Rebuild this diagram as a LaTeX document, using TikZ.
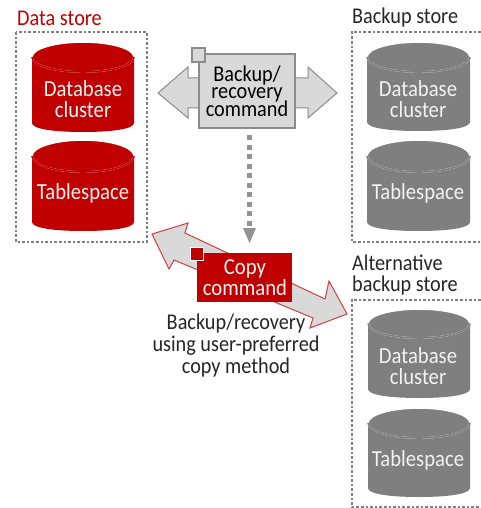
\documentclass[tikz,border=0pt]{standalone}
\usepackage{fontspec}
\setmainfont[FakeStretch=0.9]{Carlito}
\definecolor{fjred}{HTML}{C00000}
\definecolor{cylgray}{HTML}{7F7F7F}
\definecolor{arrowfill}{HTML}{D9D9D9}
\definecolor{arrowedge}{HTML}{8C8C8C}
\definecolor{dotgray}{HTML}{808080}
\definecolor{softwhite}{HTML}{F2F2F2}
\newcommand{\tightlines}{\lineskiplimit=-20pt\relax}
\newcommand{\dbcyl}[6]{%
  \fill[#6] (#1,{(#3+#4)/2}) -- (#1,#5-9) .. controls (#1,#5-3) and (#1+22,#5) .. ({(#1+#2)/2},#5)
    .. controls (#2-22,#5) and (#2,#5-3) .. (#2,#5-9) -- (#2,{(#3+#4)/2}) -- cycle;
  \draw[white,line width=1.6pt,fill=#6] ({(#1+#2)/2},{(#3+#4)/2}) ellipse [x radius={(#2-#1)/2},y radius={(#4-#3)/2}];
  \draw[#6,line width=1.6pt] (#1,{(#3+#4)/2}) arc[start angle=180,end angle=0,x radius={(#2-#1)/2},y radius={(#4-#3)/2}];
}
\tikzset{
  x=1pt,y=-1pt,
  storebox/.style={draw=dotgray,line width=2.8pt,dash pattern=on 2.6pt off 2pt},
  heading/.style={anchor=west,inner sep=0pt,font=\fontsize{22.5}{21}\selectfont},
  cyltext/.style={inner sep=0pt,align=center,font=\fontsize{23}{21}\selectfont},
  lighttext/.style={cyltext,text=softwhite},
  graydouble/.style={draw=arrowedge,fill=arrowfill,line width=1pt,line join=miter},
  reddouble/.style={draw=fjred!75!white,fill=arrowfill,line width=1pt,line join=miter},
  cmdbox/.style={draw=arrowedge,fill=arrowfill,line width=1.2pt,minimum width=96pt,minimum height=74pt,inner sep=0pt},
  copybox/.style={fill=fjred,minimum width=95pt,minimum height=49pt,inner sep=0pt},
  cmdtext/.style={inner sep=0pt,align=center,font=\fontsize{22.5}{17.5}\selectfont\tightlines},
}
\begin{document}
\begin{tikzpicture}
\useasboundingbox[fill=white] (0,0) rectangle (481,508);
% store frames
\draw[storebox] (481,32) -- (352,32) -- (352,242) -- (481,242);
\draw[storebox] (481,300) -- (352,300) -- (352,507) -- (481,507);
\draw[storebox] (16,32) rectangle (147,242);
\node[heading,text=fjred] (dsl) at (17,18) {Data store};
\node[heading,text=black!85] (bsl) at (352,18) {Backup store};
\node[heading,text=black!85,align=left] (asl) at (352,275) {Alternative\\backup store};
% cylinders
\dbcyl{32}{134}{42}{72}{132}{fjred}
\dbcyl{32}{134}{140}{172}{231}{fjred}
\dbcyl{367}{470}{42}{72}{131}{cylgray}
\dbcyl{367}{470}{140}{172}{231}{cylgray}
\dbcyl{368}{470}{309}{338}{398}{cylgray}
\dbcyl{368}{470}{408}{438}{497}{cylgray}
\node[lighttext] (t1) at (83,99) {Database\\cluster};
\node[lighttext] (t2) at (83,193) {Tablespace};
\node[lighttext] (t3) at (418,99) {Database\\cluster};
\node[lighttext] (t4) at (418,193) {Tablespace};
\node[lighttext] (t5) at (418,366) {Database\\cluster};
\node[lighttext] (t6) at (418,460) {Tablespace};
% gray double arrow
\draw[graydouble] (158,93) -- (188,67) -- (188,78) -- (308,78) -- (308,67) -- (337,93) -- (308,118) -- (308,108) -- (188,108) -- (188,118) -- cycle;
\node[cmdbox] (cmd) at (247,91) {};
\node[cmdtext] (cmdt) at (247,91) {Backup/\\recovery\\command};
\draw[draw=arrowedge,fill=arrowfill,line width=1.2pt] (192,48) rectangle (205,62);
% dotted arrow
\coordinate (ds) at (249.5,135);
\coordinate (de) at (249.5,228);
\draw[dotgray!85,line width=5pt,dash pattern=on 5pt off 4.5pt] (ds) -- (de);
\fill[dotgray!85] (243,228) -- (256,228) -- (249.5,243) -- cycle;
% red double arrow
\draw[reddouble] (152,234) -- (188,223) -- (185,233) -- (325,299) -- (329,281) -- (347,314) -- (310,328) -- (313,318) -- (174,260) -- (169,269) -- cycle;
\node[copybox] (copy) at (244.5,277.5) {};
\node[cmdtext,text=softwhite,font=\fontsize{23}{21}\selectfont] (copyt) at (245,278) {Copy\\command};
\fill[fjred,draw=white,line width=0.6pt] (190.5,247.5) rectangle (203,260);
\node[inner sep=0pt,align=center,text=black!85,font=\fontsize{22.5}{22}\selectfont] (caption) at (236,345) {Backup/recovery\\using user-preferred\\copy method};
\end{tikzpicture}
\end{document}
